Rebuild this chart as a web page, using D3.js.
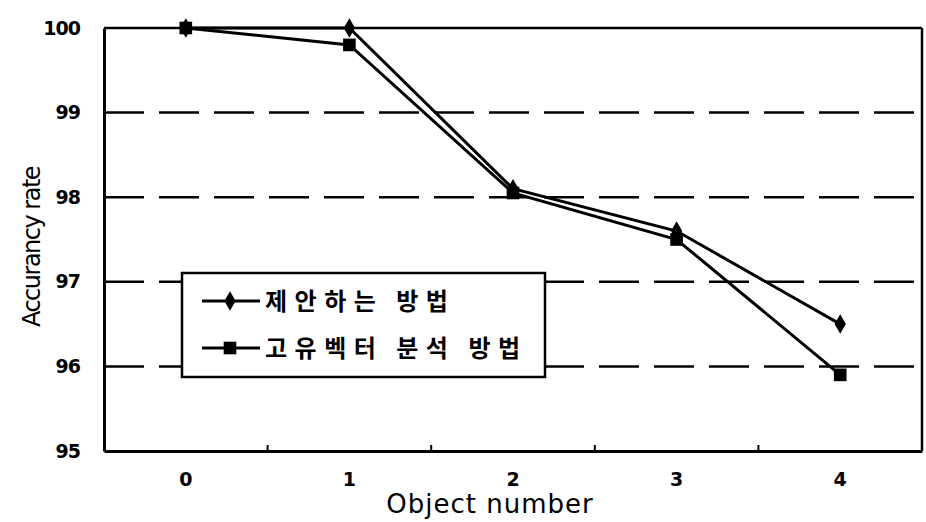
<!DOCTYPE html>
<html><head><meta charset="utf-8">
<script src="https://cdn.jsdelivr.net/npm/d3@7"></script>
<style>body{margin:0;background:#fff}</style>
</head><body>
<svg id="c" width="926" height="522"></svg>
<script>
const categories = ["0","1","2","3","4"];
const seriesProposed = [100, 100, 98.1, 97.6, 96.5];
const seriesEigen = [100, 99.8, 98.05, 97.5, 95.9];
const seriesNames = ["제안하는 방법", "고유벡터 분석 방법"];
const yTicks = [95, 96, 97, 98, 99, 100];

const svg = d3.select("#c");
const L = 104, R = 922, T = 28, B = 451;
const x = d3.scaleBand().domain(categories).range([L, R]);
const y = d3.scaleLinear().domain([95, 100]).range([B, T]);
const numFont = "'DejaVu Sans', sans-serif";

// gridlines
svg.append("g").selectAll("line").data(yTicks.filter(d => d > 95 && d < 100)).join("line")
  .attr("x1", L).attr("x2", R).attr("y1", d => y(d)).attr("y2", d => y(d))
  .attr("stroke", "#000").attr("stroke-width", 2.5).attr("stroke-dasharray", "40,15");
// frame top/right
svg.append("line").attr("x1", L).attr("x2", R).attr("y1", y(100)).attr("y2", y(100)).attr("stroke", "#000").attr("stroke-width", 2.5);
svg.append("line").attr("x1", R).attr("x2", R).attr("y1", T).attr("y2", B).attr("stroke", "#000").attr("stroke-width", 2.5);

// axes
const yAxis = d3.axisLeft(y).tickValues(yTicks).tickFormat(d3.format("d")).tickSize(0).tickPadding(24);
const gy = svg.append("g").attr("transform", `translate(${L},0)`).call(yAxis);
gy.select(".domain").attr("stroke-width", 3);
gy.selectAll("text").attr("font-family", numFont).attr("font-size", 19).attr("font-weight", "bold")
  .attr("letter-spacing", -1).attr("fill", "#000");

const xAxis = d3.axisBottom(x).tickSize(0).tickPadding(22);
const gx = svg.append("g").attr("transform", `translate(0,${B})`).call(xAxis);
gx.select(".domain").attr("stroke-width", 3);
gx.selectAll("text").attr("font-family", numFont).attr("font-size", 19).attr("font-weight", "bold").attr("fill", "#000");
// band boundary ticks
svg.append("g").selectAll("line").data(categories.slice(1)).join("line")
  .attr("x1", d => x(d)).attr("x2", d => x(d)).attr("y1", B).attr("y2", B - 6)
  .attr("stroke", "#000").attr("stroke-width", 2);

// axis titles
svg.append("text").attr("transform", "translate(40,247) rotate(-90)").attr("text-anchor", "middle")
  .attr("font-family", numFont).attr("font-size", 24).attr("letter-spacing", -1.5).text("Accurancy rate");
svg.append("text").attr("x", 490).attr("y", 513).attr("text-anchor", "middle")
  .attr("font-family", numFont).attr("font-size", 26).attr("letter-spacing", 1).text("Object number");

// series
const line = d3.line().x((d, i) => x(categories[i]) + x.bandwidth()/2).y(d => y(d));
const data = [seriesProposed, seriesEigen];
data.forEach((s, k) => {
  svg.append("path").datum(s).attr("d", line).attr("fill", "none").attr("stroke", "#000").attr("stroke-width", 3);
  const sym = k === 0 ? d3.symbolDiamond : d3.symbolSquare;
  svg.append("g").selectAll("path").data(s).join("path")
    .attr("transform", (d, i) => `translate(${x(categories[i]) + x.bandwidth()/2},${y(d)})`)
    .attr("d", d3.symbol(sym, k === 0 ? 110 : 160)).attr("fill", "#000");
});

// legend
const lg = svg.append("g");
lg.append("rect").attr("x", 182).attr("y", 273).attr("width", 363).attr("height", 104)
  .attr("fill", "#fff").attr("stroke", "#000").attr("stroke-width", 2.5);
seriesNames.forEach((n, k) => {
  const yy = 301 + k * 47;
  lg.append("line").attr("x1", 202).attr("x2", 260).attr("y1", yy).attr("y2", yy).attr("stroke", "#000").attr("stroke-width", 3);
  lg.append("path").attr("transform", `translate(230,${yy})`)
    .attr("d", d3.symbol(k === 0 ? d3.symbolDiamond : d3.symbolSquare, k === 0 ? 110 : 160)).attr("fill", "#000");
  lg.append("text").attr("x", 265).attr("y", yy + 9).attr("font-family", "'Noto Sans CJK KR', sans-serif")
    .attr("font-size", 24).attr("font-weight", "bold").attr("letter-spacing", 7.5).text(n);
});
</script>
</body></html>
